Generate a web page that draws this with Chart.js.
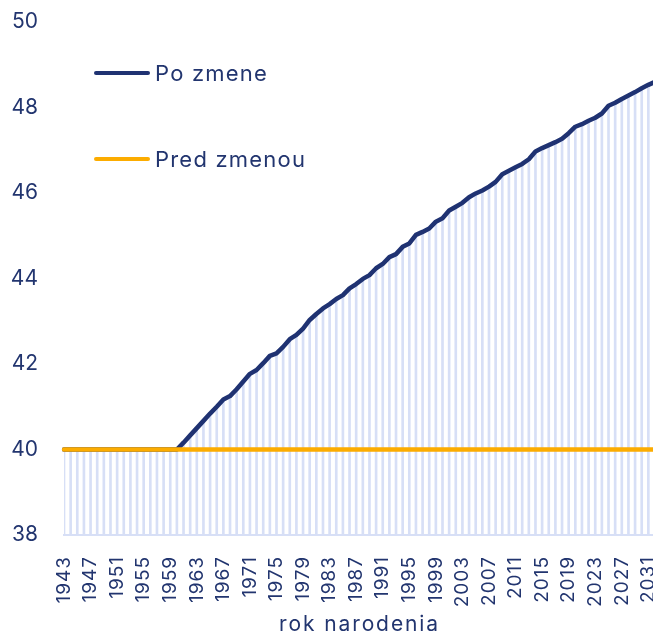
<!DOCTYPE html>
<html>
<head>
<meta charset="utf-8">
<script src="https://cdn.jsdelivr.net/npm/chart.js@4/dist/chart.umd.min.js"></script>
<style>
  html, body { margin: 0; padding: 0; background: #fff; overflow: hidden; width: 653px; height: 632px; }
  .chart-box { position: relative; width: 666px; height: 632px; }
</style>
</head>
<body>
<div class="chart-box"><canvas id="chart"></canvas></div>
<script>
const years = [
  1943, 1944, 1945, 1946, 1947, 1948, 1949, 1950, 1951, 1952,
  1953, 1954, 1955, 1956, 1957, 1958, 1959, 1960, 1961, 1962,
  1963, 1964, 1965, 1966, 1967, 1968, 1969, 1970, 1971, 1972,
  1973, 1974, 1975, 1976, 1977, 1978, 1979, 1980, 1981, 1982,
  1983, 1984, 1985, 1986, 1987, 1988, 1989, 1990, 1991, 1992,
  1993, 1994, 1995, 1996, 1997, 1998, 1999, 2000, 2001, 2002,
  2003, 2004, 2005, 2006, 2007, 2008, 2009, 2010, 2011, 2012,
  2013, 2014, 2015, 2016, 2017, 2018, 2019, 2020, 2021, 2022,
  2023, 2024, 2025, 2026, 2027, 2028, 2029, 2030, 2031, 2032
];

const poZmene = [
  40, 40, 40, 40, 40, 40, 40, 40, 40, 40,
  40, 40, 40, 40, 40, 40, 40, 40, 40.16, 40.33,
  40.50, 40.67, 40.84, 41.00, 41.17, 41.25, 41.41, 41.59, 41.77, 41.86,
  42.02, 42.19, 42.25, 42.40, 42.58, 42.68, 42.83, 43.03, 43.17, 43.30,
  43.40, 43.52, 43.61, 43.77, 43.87, 43.99, 44.08, 44.24, 44.34, 44.50,
  44.57, 44.74, 44.82, 45.02, 45.09, 45.17, 45.33, 45.41, 45.59, 45.68,
  45.77, 45.90, 45.99, 46.06, 46.15, 46.26, 46.44, 46.52, 46.60, 46.68,
  46.79, 46.97, 47.05, 47.12, 47.19, 47.27, 47.40, 47.55, 47.61, 47.69,
  47.76, 47.86, 48.04, 48.11, 48.20, 48.28, 48.36, 48.45, 48.53, 48.60
];

const predZmenou = [
  40, 40, 40, 40, 40, 40, 40, 40, 40, 40,
  40, 40, 40, 40, 40, 40, 40, 40, 40, 40,
  40, 40, 40, 40, 40, 40, 40, 40, 40, 40,
  40, 40, 40, 40, 40, 40, 40, 40, 40, 40,
  40, 40, 40, 40, 40, 40, 40, 40, 40, 40,
  40, 40, 40, 40, 40, 40, 40, 40, 40, 40,
  40, 40, 40, 40, 40, 40, 40, 40, 40, 40,
  40, 40, 40, 40, 40, 40, 40, 40, 40, 40,
  40, 40, 40, 40, 40, 40, 40, 40, 40, 40
];

const yMin = 38;
const yMax = 50;
const yStep = 2;
const axisTitle = 'rok narodenia';

const navy = '#1f3272';
const orange = '#fcac00';
const stripe = '#d7dff6';
const textColor = '#22356f';

Chart.defaults.font.family = 'Inter';
Chart.defaults.color = textColor;

// legend + x axis title drawn by hand, like the original
const legendInside = {
  id: 'legendInside',
  afterDraw(chart) {
    const { ctx, chartArea } = chart;
    ctx.save();
    ctx.letterSpacing = '1.2px';
    ctx.font = '22px Inter';
    ctx.textBaseline = 'middle';
    ctx.textAlign = 'left';
    [0, 1].forEach((idx, i) => {
      const ds = chart.data.datasets[idx];
      const y = chartArea.top + 51 + i * 86;
      const x0 = chartArea.left + 32;
      ctx.strokeStyle = ds.borderColor;
      ctx.lineWidth = 4;
      ctx.lineCap = 'round';
      ctx.beginPath();
      ctx.moveTo(x0, y);
      ctx.lineTo(x0 + 52, y);
      ctx.stroke();
      ctx.fillStyle = textColor;
      ctx.fillText(ds.label, x0 + 59, y + 1);
    });

    ctx.letterSpacing = '1.9px';
    ctx.font = '21px Inter';
    ctx.textAlign = 'center';
    ctx.textBaseline = 'alphabetic';
    ctx.fillText(axisTitle, (chartArea.left + chartArea.right) / 2, 631);
    ctx.restore();
  }
};

// year labels in the original are spaced out a little
function spacedLabels(scale) {
  if (scale._spaced) return;
  scale._spaced = true;
  const draw = scale.drawLabels;
  scale.drawLabels = function (area) {
    this.ctx.save();
    this.ctx.letterSpacing = '1px';
    draw.call(this, area);
    this.ctx.restore();
  };
}

new Chart(document.getElementById('chart'), {
  type: 'bar',
  plugins: [legendInside],
  data: {
    labels: years,
    datasets: [
      {
        type: 'line',
        label: 'Po zmene',
        data: poZmene,
        borderColor: navy,
        borderWidth: 4.5,
        pointRadius: 0,
        borderJoinStyle: 'round',
        borderCapStyle: 'round',
        order: 1,
      },
      {
        type: 'line',
        label: 'Pred zmenou',
        data: predZmenou,
        borderColor: orange,
        borderWidth: 4.5,
        pointRadius: 0,
        borderCapStyle: 'round',
        order: 0,
      },
      {
        label: 'stlpce',
        data: poZmene,
        backgroundColor: stripe,
        borderWidth: 0,
        barThickness: 2,
        order: 2,
      },
    ],
  },
  options: {
    responsive: true,
    maintainAspectRatio: false,
    animation: false,
    layout: { padding: { top: 22, left: 0, right: 11, bottom: 15 } },
    plugins: {
      legend: { display: false },
      tooltip: { enabled: false },
    },
    scales: {
      x: {
        offset: false,
        afterFit: (scale) => {
          scale.height = 82;
          scale.paddingLeft = 0;
          scale.paddingRight = 0;
          spacedLabels(scale);
        },
        grid: { display: false, offset: false },
        border: { display: true, color: stripe, width: 2 },
        ticks: {
          autoSkip: false,
          minRotation: 90,
          maxRotation: 90,
          padding: 13,
          color: textColor,
          font: { family: 'Inter', size: 19 },
          callback: (v, i) => (i % 4 === 0 ? years[i] : ''),
        },
      },
      y: {
        min: yMin,
        max: yMax,
        afterFit: (scale) => {
          scale.width = 64;
          scale.paddingTop = 0;
          scale.paddingBottom = 0;
        },
        grid: { display: false },
        border: { display: false },
        ticks: {
          stepSize: yStep,
          padding: 18,
          color: textColor,
          font: { family: 'Inter', size: 21 },
        },
      },
    },
  },
});
</script>
</body>
</html>
